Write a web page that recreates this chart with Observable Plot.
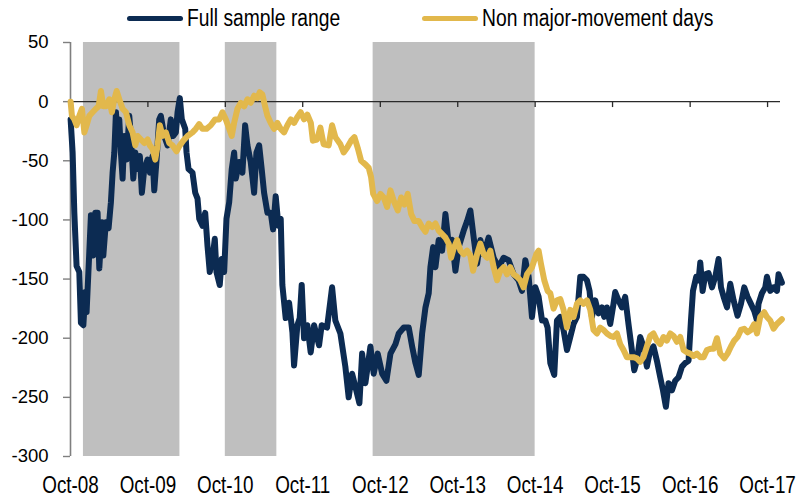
<!DOCTYPE html>
<html><head><meta charset="utf-8">
<script src="https://cdn.jsdelivr.net/npm/d3@7"></script>
<script src="https://cdn.jsdelivr.net/npm/@observablehq/plot@0.6"></script>
<style>
body{margin:0;background:#fff;}
#legend{position:relative;height:30px;width:798px;font-family:"Liberation Sans Narrow","Arial Narrow","Liberation Sans",Arial,sans-serif;font-size:23.5px;color:#000;}
.sw{position:absolute;top:16px;height:5px;border-radius:3px;}
.lb{position:absolute;top:7px;line-height:1;white-space:nowrap;transform-origin:0 50%;}
svg{display:block}
</style></head><body>
<div id="legend"></div>
<div id="chart"></div>
<script>
// ---- data ----
const seriesNames = ["Full sample range", "Non major-movement days"];
const seriesColors = ["#0c2b52", "#e2b84c"];

// decimal years
const fullT = [2008.75,2008.776,2008.798,2008.827,2008.862,2008.883,2008.914,2008.94,2008.956,2008.991,2009.012,2009.043,2009.069,2009.098,2009.12,2009.154,2009.172,2009.205,2009.24,2009.27,2009.292,2009.314,2009.335,2009.356,2009.378,2009.399,2009.421,2009.443,2009.473,2009.507,2009.528,2009.559,2009.585,2009.615,2009.644,2009.67,2009.701,2009.744,2009.773,2009.808,2009.83,2009.86,2009.894,2009.915,2009.959,2010.002,2010.044,2010.075,2010.109,2010.131,2010.16,2010.186,2010.23,2010.247,2010.273,2010.324,2010.359,2010.389,2010.411,2010.453,2010.488,2010.518,2010.547,2010.582,2010.612,2010.634,2010.676,2010.702,2010.733,2010.763,2010.798,2010.831,2010.862,2010.883,2010.927,2010.969,2011.004,2011.034,2011.076,2011.12,2011.15,2011.185,2011.218,2011.249,2011.292,2011.335,2011.365,2011.399,2011.434,2011.464,2011.485,2011.528,2011.572,2011.615,2011.636,2011.679,2011.709,2011.735,2011.765,2011.808,2011.851,2011.895,2011.959,2011.993,2012.062,2012.127,2012.169,2012.234,2012.298,2012.341,2012.385,2012.427,2012.479,2012.514,2012.556,2012.621,2012.663,2012.715,2012.772,2012.827,2012.879,2012.944,2012.986,2013.051,2013.115,2013.159,2013.202,2013.244,2013.288,2013.331,2013.373,2013.395,2013.43,2013.46,2013.502,2013.546,2013.589,2013.631,2013.675,2013.718,2013.76,2013.825,2013.869,2013.911,2013.954,2013.998,2014.04,2014.083,2014.147,2014.212,2014.276,2014.341,2014.405,2014.47,2014.534,2014.578,2014.621,2014.664,2014.707,2014.75,2014.793,2014.837,2014.879,2014.909,2014.944,2014.995,2015.03,2015.073,2015.115,2015.159,2015.202,2015.244,2015.288,2015.331,2015.373,2015.417,2015.451,2015.482,2015.524,2015.567,2015.611,2015.64,2015.675,2015.718,2015.76,2015.782,2015.825,2015.869,2015.911,2015.954,2015.998,2016.028,2016.062,2016.105,2016.147,2016.191,2016.234,2016.276,2016.32,2016.363,2016.398,2016.436,2016.47,2016.514,2016.556,2016.599,2016.643,2016.685,2016.728,2016.759,2016.785,2016.827,2016.857,2016.879,2016.909,2016.944,2016.986,2017.03,2017.073,2017.115,2017.146,2017.18,2017.224,2017.266,2017.309,2017.36,2017.404,2017.447,2017.489,2017.533,2017.576,2017.611,2017.631,2017.675,2017.718,2017.74,2017.782,2017.825,2017.869,2017.89,2017.933];
const fullV = [-15,-43,-94,-139,-144,-187,-189,-161,-178,-127,-96,-130,-94,-94,-141,-102,-130,-102,-107,-85,-60,-43,-9,-29,-15,-43,-65,-29,-49,-12,-29,-65,-43,-57,-46,-77,-57,-49,-60,-46,-75,-49,-15,-12,-29,-37,-15,-29,-26,-9,3,-15,-23,-43,-57,-60,-77,-82,-99,-105,-94,-122,-144,-133,-116,-144,-155,-133,-144,-99,-85,-57,-43,-65,-51,-60,-20,-37,-51,-77,-43,-37,-57,-77,-94,-94,-108,-80,-105,-99,-155,-183,-170,-195,-223,-189,-183,-155,-200,-189,-212,-189,-206,-189,-191,-157,-185,-196,-224,-250,-230,-241,-255,-213,-238,-207,-230,-213,-230,-236,-213,-205,-196,-191,-191,-207,-221,-231,-196,-174,-162,-140,-123,-140,-117,-126,-95,-120,-117,-143,-123,-109,-101,-92,-115,-137,-117,-129,-115,-132,-140,-132,-134,-146,-151,-160,-134,-148,-182,-157,-165,-185,-185,-191,-221,-231,-185,-182,-193,-210,-199,-188,-182,-148,-148,-151,-160,-182,-168,-179,-174,-182,-174,-188,-171,-161,-168,-174,-165,-188,-210,-227,-219,-199,-207,-224,-210,-207,-219,-233,-244,-258,-238,-244,-236,-233,-224,-221,-219,-185,-160,-148,-151,-136,-160,-146,-145,-157,-148,-133,-157,-165,-174,-154,-168,-181,-171,-157,-165,-171,-177,-185,-171,-162,-157,-148,-160,-157,-160,-146,-153];

const nonT = [2008.75,2008.767,2008.798,2008.827,2008.862,2008.896,2008.927,2008.956,2008.991,2009.034,2009.076,2009.111,2009.141,2009.172,2009.205,2009.249,2009.283,2009.314,2009.344,2009.378,2009.421,2009.464,2009.507,2009.55,2009.585,2009.615,2009.657,2009.701,2009.744,2009.773,2009.808,2009.843,2009.873,2009.902,2009.937,2009.98,2010.024,2010.066,2010.118,2010.16,2010.204,2010.26,2010.324,2010.367,2010.411,2010.453,2010.505,2010.56,2010.617,2010.669,2010.711,2010.754,2010.798,2010.831,2010.862,2010.905,2010.947,2010.991,2011.034,2011.076,2011.12,2011.163,2011.193,2011.227,2011.262,2011.292,2011.335,2011.378,2011.421,2011.464,2011.507,2011.55,2011.593,2011.636,2011.679,2011.722,2011.766,2011.808,2011.853,2011.879,2011.933,2011.976,2012.018,2012.083,2012.127,2012.169,2012.234,2012.276,2012.32,2012.372,2012.415,2012.457,2012.501,2012.556,2012.599,2012.63,2012.656,2012.707,2012.75,2012.793,2012.836,2012.879,2012.922,2012.973,2013.017,2013.06,2013.102,2013.146,2013.189,2013.244,2013.288,2013.331,2013.373,2013.417,2013.46,2013.502,2013.546,2013.589,2013.631,2013.662,2013.696,2013.74,2013.782,2013.825,2013.869,2013.911,2013.946,2013.998,2014.04,2014.083,2014.127,2014.169,2014.212,2014.256,2014.298,2014.341,2014.385,2014.427,2014.47,2014.513,2014.556,2014.599,2014.643,2014.707,2014.763,2014.793,2014.823,2014.866,2014.909,2014.944,2014.986,2015.03,2015.073,2015.115,2015.159,2015.202,2015.244,2015.288,2015.331,2015.373,2015.417,2015.46,2015.502,2015.546,2015.589,2015.631,2015.675,2015.718,2015.76,2015.804,2015.847,2015.89,2015.933,2015.976,2016.018,2016.062,2016.105,2016.147,2016.191,2016.234,2016.276,2016.32,2016.363,2016.405,2016.448,2016.492,2016.534,2016.578,2016.621,2016.664,2016.707,2016.75,2016.792,2016.836,2016.879,2016.922,2016.965,2017.008,2017.051,2017.094,2017.137,2017.189,2017.231,2017.275,2017.318,2017.361,2017.404,2017.447,2017.489,2017.533,2017.576,2017.611,2017.653,2017.705,2017.74,2017.782,2017.825,2017.869,2017.933];
const nonV = [0,-12,-15,-20,-12,-6,-26,-20,-12,-9,-6,-4,9,-4,-4,2,-9,2,9,2,-6,-9,-20,-26,-37,-29,-32,-35,-32,-37,-40,-49,-37,-20,-29,-26,-35,-37,-42,-37,-33,-29,-26,-23,-19,-23,-23,-20,-15,-15,-9,-15,-23,-29,-18,-6,-1,-4,2,-1,5,3,8,6,-4,-12,-18,-23,-18,-23,-26,-20,-15,-18,-13,-9,-15,-11,-18,-33,-32,-22,-36,-37,-20,-30,-36,-43,-39,-33,-30,-39,-50,-53,-56,-64,-78,-84,-78,-81,-89,-75,-84,-92,-81,-87,-78,-95,-101,-101,-106,-110,-103,-106,-103,-109,-112,-115,-120,-132,-124,-117,-126,-129,-126,-130,-143,-129,-120,-129,-132,-126,-140,-151,-143,-140,-146,-140,-146,-148,-151,-157,-146,-140,-129,-126,-137,-151,-160,-162,-175,-168,-167,-176,-191,-176,-182,-171,-168,-171,-168,-176,-193,-196,-191,-193,-196,-198,-199,-196,-205,-210,-216,-216,-216,-217,-220,-216,-207,-198,-196,-202,-205,-199,-202,-196,-198,-203,-199,-210,-212,-213,-215,-213,-216,-216,-210,-209,-209,-200,-213,-217,-213,-207,-202,-199,-193,-192,-195,-193,-188,-196,-182,-178,-182,-185,-192,-188,-184];

// shaded periods
const bandStart = ["2008-12-01", "2010-10-01", "2012-08-28"];
const bandEnd   = ["2010-03-01", "2011-06-01", "2014-10-01"];

const yDomain = [-300, 50];
const yTicks = [50, 0, -50, -100, -150, -200, -250, -300];
const xStart = "2008-10-01", xEnd = "2017-12-01";
const xTickLabels = ["Oct-08","Oct-09","Oct-10","Oct-11","Oct-12","Oct-13","Oct-14","Oct-15","Oct-16","Oct-17"];

// ---- build ----
function fromDecimalYear(t) {
  const y = Math.floor(t);
  const s = Date.UTC(y, 0, 1), e = Date.UTC(y + 1, 0, 1);
  return new Date(s + (t - y) * (e - s));
}
const parse = d3.utcParse("%Y-%m-%d");
const parseTick = d3.utcParse("%b-%y");
const xTicks = xTickLabels.map(parseTick);
const full = fullT.map((t, i) => ({date: fromDecimalYear(t), v: fullV[i]}));
const non = nonT.map((t, i) => ({date: fromDecimalYear(t), v: nonV[i]}));
const bands = bandStart.map((s, i) => ({start: parse(s), end: parse(bandEnd[i])}));

const NARROW = '"Liberation Sans Narrow","Arial Narrow","Liberation Sans",Arial,sans-serif';
const REG = '"Liberation Sans",Arial,sans-serif';

// legend (HTML, above the svg)
const legend = document.getElementById("legend");
const legendPos = [[127, 187], [422, 482]];
seriesNames.forEach((name, i) => {
  const sw = document.createElement("div");
  sw.className = "sw";
  sw.style.left = legendPos[i][0] + "px";
  sw.style.width = (legendPos[i][1] - legendPos[i][0] - 4) + "px";
  sw.style.background = seriesColors[i];
  legend.appendChild(sw);
  const lb = document.createElement("div");
  lb.className = "lb";
  lb.style.left = legendPos[i][1] + "px";
  lb.textContent = name;
  legend.appendChild(lb);
});

const chart = Plot.plot({
  width: 798,
  height: 468,
  marginLeft: 70,
  marginRight: 18,
  marginTop: 12,
  marginBottom: 42,
  style: {background: "#fff"},
  x: {type: "utc", domain: [parse(xStart), parse(xEnd)]},
  y: {domain: yDomain},
  marks: [
    Plot.rect(bands, {x1: "start", x2: "end", y1: yDomain[0], y2: yDomain[1], fill: "#bfbfbf"}),
    Plot.ruleY([0], {stroke: "#2a2a2a", strokeWidth: 1.3}),
    Plot.ruleX(xTicks, {x: d => d, y1: 0, y2: -5, stroke: "#2a2a2a", strokeWidth: 1.3}),
    Plot.ruleX([parse(xStart)], {stroke: "#7f7f7f", strokeWidth: 1.6}),
    Plot.axisY({ticks: yTicks, tickSize: 7, tickPadding: 15, stroke: "#7f7f7f", strokeWidth: 1.4,
      fill: "#000", fontSize: 18.5, fontFamily: REG, label: null, tickFormat: d => String(d)}),
    Plot.axisX({ticks: xTicks, tickSize: 0, tickPadding: 20, tickFormat: d3.utcFormat("%b-%y"),
      fill: "#000", fontSize: 23, fontFamily: NARROW, label: null}),
    Plot.line(full, {x: "date", y: "v", stroke: seriesColors[0], strokeWidth: 6, strokeLinejoin: "round", strokeLinecap: "round"}),
    Plot.line(non, {x: "date", y: "v", stroke: seriesColors[1], strokeWidth: 6, strokeLinejoin: "round", strokeLinecap: "round"})
  ]
});
document.getElementById("chart").appendChild(chart);

// fallback if no narrow face is installed: condense horizontally
(function () {
  const c = document.createElement("canvas").getContext("2d");
  c.font = '23.5px "Liberation Sans Narrow"';
  const w1 = c.measureText("Oct-08 sample").width;
  c.font = '23.5px "Liberation Sans"';
  const w2 = c.measureText("Oct-08 sample").width;
  if (w1 > 0.9 * w2) {
    const k = 0.82;
    document.querySelectorAll(".lb").forEach(el => el.style.transform = `scaleX(${k})`);
    d3.select(chart).selectAll("g[aria-label='x-axis tick label'] text").each(function () {
      const t = this.getAttribute("transform") || "";
      this.setAttribute("transform", t + ` scale(${k},1)`);
    });
  }
})();
</script>
</body></html>
